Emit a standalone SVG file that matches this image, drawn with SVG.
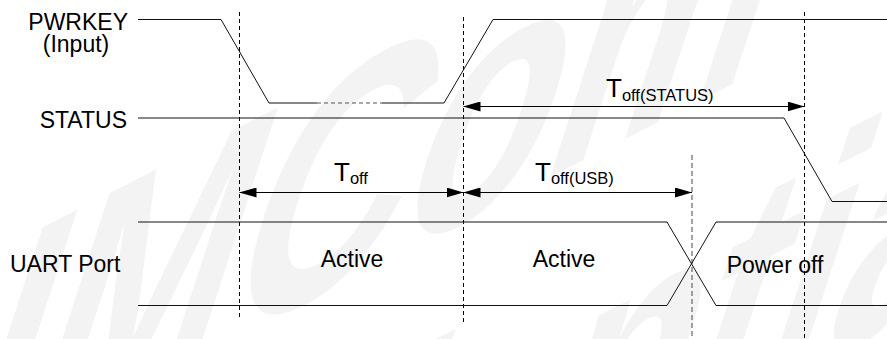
<svg xmlns="http://www.w3.org/2000/svg" width="887" height="339" viewBox="0 0 887 339">
  <style>
    text { font-family: "Liberation Sans", Arial, sans-serif; fill: #000; }
    .lbl { font-size: 23px; }
    .tmain { font-size: 26px; }
    .tsub { font-size: 16.5px; }
    .wave { fill: none; stroke: #111; stroke-width: 1; }
    .mark { fill: none; stroke: #000; stroke-width: 1; stroke-dasharray: 4 3; }
    .mark-grey { fill: none; stroke: #666; stroke-width: 1.2; stroke-dasharray: 5 3; }
    .dim { fill: none; stroke: #000; stroke-width: 1; marker-start: url(#head); marker-end: url(#head); }
    .wm { font-size: 270px; font-weight: bold; fill: #f3f3f3; }
  </style>
  <defs>
    <marker id="head" markerUnits="userSpaceOnUse" markerWidth="17" markerHeight="10" refX="17" refY="5" orient="auto-start-reverse">
      <path d="M0,0 L17,5 L0,10 Z" fill="#000"/>
    </marker>
  </defs>

  <rect width="887" height="339" fill="#fff"/>

  <!-- background watermark -->
  <g id="watermark" transform="translate(-215,567) rotate(-27) skewX(-45)">
    <text class="wm" x="0" y="0">SIMCom</text>
    <text class="wm" x="-38" y="288">Confidential</text>
  </g>

  <!-- time markers -->
  <g id="markers">
    <line class="mark" x1="239.5" y1="12" x2="239.5" y2="318"/>
    <line class="mark" x1="463.5" y1="17" x2="463.5" y2="323"/>
    <line class="mark-grey" x1="692" y1="155" x2="692" y2="339"/>
    <line class="mark" x1="804.5" y1="12" x2="804.5" y2="339"/>
  </g>

  <!-- PWRKEY input -->
  <g id="pwrkey">
    <text class="lbl" x="128" y="30" text-anchor="end">PWRKEY</text>
    <text class="lbl" x="76" y="52" text-anchor="middle">(Input)</text>
    <path class="wave" d="M138,19.5 H221 L269,103 H317 M382,103 H444 L493,19.5 H887"/>
    <path d="M317,103 H382" fill="none" stroke="#555" stroke-width="1.2" stroke-dasharray="4 3"/>
  </g>

  <!-- STATUS output -->
  <g id="status">
    <text class="lbl" x="127" y="128" text-anchor="end">STATUS</text>
    <path class="wave" d="M138,118 H784 L832,201.5 H887"/>
  </g>

  <!-- UART port state -->
  <g id="uart">
    <text class="lbl" x="10" y="272">UART Port</text>
    <path class="wave" d="M138,222 H667 L716,305.5 H887"/>
    <path class="wave" d="M138,305.5 H667 L716,222 H887"/>
    <text class="lbl" x="352" y="267" text-anchor="middle">Active</text>
    <text class="lbl" x="564" y="267" text-anchor="middle">Active</text>
    <text class="lbl" x="775" y="273" text-anchor="middle">Power off</text>
  </g>

  <!-- timing dimensions -->
  <g id="connectors">
    <line class="dim" x1="463.5" y1="106.5" x2="804.5" y2="106.5"/>
    <line class="dim" x1="239.5" y1="192.5" x2="463.5" y2="192.5"/>
    <line class="dim" x1="463.5" y1="192.5" x2="692" y2="192.5"/>
  </g>

  <g id="t-off-status">
    <text x="606" y="97"><tspan class="tmain">T</tspan><tspan class="tsub" dy="4">off(STATUS)</tspan></text>
  </g>
  <g id="t-off">
    <text x="334" y="181"><tspan class="tmain">T</tspan><tspan class="tsub" dy="3">off</tspan></text>
  </g>
  <g id="t-off-usb">
    <text x="535" y="181"><tspan class="tmain">T</tspan><tspan class="tsub" dy="3">off(USB)</tspan></text>
  </g>
</svg>
